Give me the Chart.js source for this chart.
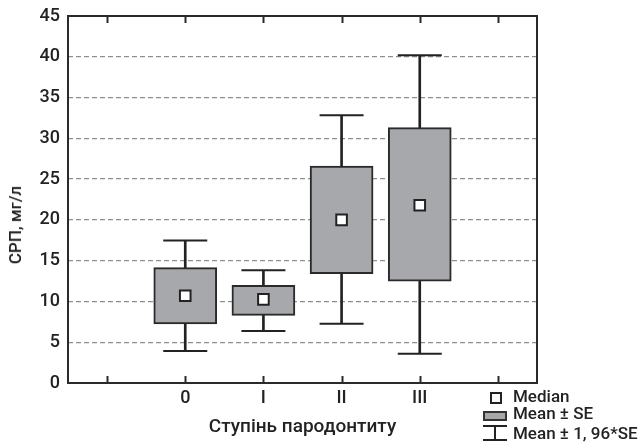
<!DOCTYPE html>
<html>
<head>
<meta charset="utf-8">
<script src="https://cdn.jsdelivr.net/npm/chart.js@4.4.1/dist/chart.umd.min.js"></script>
<style>
  body { margin: 0; background: #fff; }
  #wrap { position: relative; width: 642px; height: 443px; font-family: Roboto, "Liberation Sans", Arial, sans-serif; font-weight: 500; color: #222; }
  #tituloY { position: absolute; left: 14.5px; top: 225px; transform: translate(-50%, -50%) rotate(-90deg); font-size: 17px; white-space: nowrap; }
  .leg { position: absolute; font-size: 17px; line-height: 17px; white-space: nowrap; }
  .quadrado { position: absolute; left: 490px; top: 392px; width: 12px; height: 12px; box-sizing: border-box; border: 2px solid #222; background: #fff; }
  .retangulo { position: absolute; left: 483px; top: 411px; width: 24px; height: 10px; box-sizing: border-box; border: 2px solid #333; background: #a7a8ab; }
  .linha { position: absolute; background: #222; }
</style>
</head>
<body>
<div id="wrap">
  <canvas id="grafico" width="642" height="443"></canvas>
  <div id="tituloY">СРП, мг/л</div>
  <div class="quadrado"></div>
  <div class="leg" style="left:513px; top:388px;">Median</div>
  <div class="retangulo"></div>
  <div class="leg" style="left:513px; top:405px;">Mean ± SE</div>
  <div class="linha" style="left:483px; top:425px; width:24px; height:2px;"></div>
  <div class="linha" style="left:494px; top:426px; width:2px; height:14px;"></div>
  <div class="linha" style="left:483px; top:439px; width:24px; height:2px;"></div>
  <div class="leg" style="left:513px; top:425px;">Mean ± 1, 96*SE</div>
</div>
<script>
// categorias (as pontas vazias só servem de espaço)
const categorias = ['', '0', 'I', 'II', 'III', ''];
const bigodeMin = [null, 3.92, 6.38, 7.28, 3.6, null];
const caixaMin = [null, 7.23, 8.3, 13.41, 12.5, null];
const mediana = [null, 10.7, 10.26, 20.0, 21.8, null];
const caixaMax = [null, 14.15, 11.98, 26.6, 31.31, null];
const bigodeMax = [null, 17.46, 13.82, 32.82, 40.18, null];
const yMin = 0;
const yMax = 45;
const yPasso = 5;

const corCaixa = '#a7a8ab';
const corLinha = '#222';

function intervalo(a, b) {
    return a.map((v, i) => (v == null ? null : [v, b[i]]));
}

// moldura e marcas do eixo x
const moldura = {
    id: 'moldura',
    afterDraw(chart) {
        const ctx = chart.ctx;
        const area = chart.chartArea;
        const x = chart.scales.x;
        ctx.save();
        ctx.strokeStyle = '#2a2a2a';
        ctx.lineWidth = 2;
        ctx.strokeRect(area.left, area.top, area.right - area.left, area.bottom - area.top);
        ctx.beginPath();
        for (let i = 0; i < categorias.length; i++) {
            const px = Math.round(x.getPixelForValue(i)) + 0.5;
            ctx.moveTo(px, area.bottom);
            ctx.lineTo(px, area.bottom - 7);
            ctx.moveTo(px, area.top);
            ctx.lineTo(px, area.top + 7);
        }
        ctx.stroke();
        ctx.restore();
    }
};

const fonte = { family: 'Roboto, "Liberation Sans", Arial, sans-serif', size: 18, weight: 500 };

new Chart(document.getElementById('grafico'), {
    type: 'bar',
    data: {
        labels: categorias,
        datasets: [
            {
                label: 'bigode',
                data: intervalo(bigodeMin, bigodeMax),
                backgroundColor: corLinha,
                barThickness: 2,
                grouped: false,
                order: 4
            },
            {
                label: 'Mean ± SE',
                data: intervalo(caixaMin, caixaMax),
                backgroundColor: corCaixa,
                borderColor: '#2a2a2a',
                borderWidth: 2,
                borderSkipped: false,
                barThickness: 63,
                grouped: false,
                order: 3
            },
            {
                type: 'line',
                label: 'topo',
                data: bigodeMax,
                showLine: false,
                pointStyle: 'line',
                pointRadius: 22,
                pointBorderWidth: 2,
                pointBorderColor: corLinha,
                order: 2
            },
            {
                type: 'line',
                label: 'base',
                data: bigodeMin,
                showLine: false,
                pointStyle: 'line',
                pointRadius: 22,
                pointBorderWidth: 2,
                pointBorderColor: corLinha,
                order: 2
            },
            {
                type: 'line',
                label: 'Median',
                data: mediana,
                showLine: false,
                pointStyle: 'rect',
                pointRadius: 7.5,
                pointBorderWidth: 2,
                pointBorderColor: corLinha,
                pointBackgroundColor: '#fff',
                order: 1
            }
        ]
    },
    options: {
        responsive: false,
        animation: false,
        layout: { autoPadding: false, padding: { top: 16, right: 105, left: 0, bottom: 0 } },
        plugins: { legend: { display: false }, tooltip: { enabled: false } },
        scales: {
            x: {
                offset: true,
                grid: { display: false, drawTicks: false },
                border: { display: false },
                ticks: { color: corLinha, font: fonte, padding: 5 },
                title: {
                    display: true,
                    text: 'Ступінь пародонтиту',
                    color: corLinha,
                    font: { family: fonte.family, size: 19, weight: 500 },
                    padding: { top: 0, bottom: 4 }
                },
                afterFit: (s) => { s.height = 60; }
            },
            y: {
                min: yMin,
                max: yMax,
                ticks: { stepSize: yPasso, color: corLinha, font: fonte, padding: 8 },
                grid: {
                    drawTicks: false,
                    lineWidth: 1.3,
                    color: (c) => (c.tick && c.tick.value > yMin && c.tick.value < yMax ? '#8f8f8f' : 'rgba(0,0,0,0)')
                },
                border: { display: false, dash: [5, 3] },
                afterFit: (s) => {
                    s.width = 68;
                    s.paddingTop = 0;
                    s.paddingBottom = 0;
                }
            }
        }
    },
    plugins: [moldura]
});
</script>
</body>
</html>
